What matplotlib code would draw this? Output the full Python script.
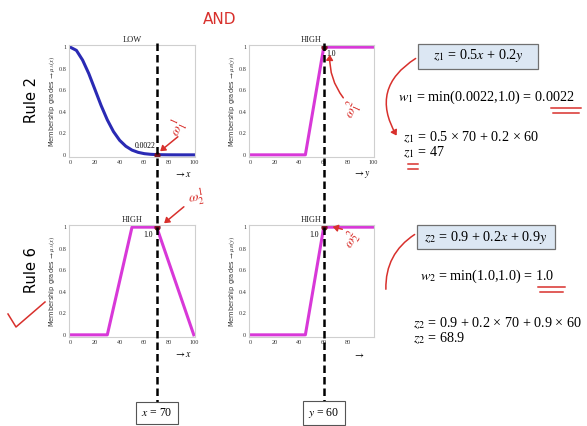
import numpy as np
import matplotlib
matplotlib.use("Agg")
import matplotlib.pyplot as plt
from matplotlib.lines import Line2D
from matplotlib.patches import FancyArrowPatch, Rectangle

plt.rcParams['mathtext.fontset'] = 'stix'
plt.rcParams['font.family'] = ['Liberation Serif', 'DejaVu Serif']

# membership functions
x_low = [0, 5, 10, 15, 20, 25, 30, 35, 40, 45, 50, 55, 60, 65, 70, 75, 80, 85, 90, 95, 100]
mu_low = [1.0, 0.97, 0.88, 0.755, 0.607, 0.458, 0.325, 0.216, 0.135, 0.08, 0.044,
          0.023, 0.011, 0.005, 0.0022, 0.001, 0.0003, 0.0001, 0.0, 0.0, 0.0]
x_high_a = [0, 30, 50, 70, 100]
mu_high_a = [0, 0, 1, 1, 0]
y_high_b = [0, 45, 60, 100]
mu_high_b = [0, 0, 1, 1]

x_in = 70
y_in = 60
w1_parts = (0.0022, 1.0)
w2_parts = (1.0, 1.0)

W, H = 587, 426
fig = plt.figure(figsize=(W / 100, H / 100), dpi=100)


def px(x, y):
    return x / W, 1 - y / H


def make_ax(left, top, right, bottom):
    return fig.add_axes([left / W, 1 - bottom / H, (right - left) / W, (bottom - top) / H])


BLUE = '#2a2ab4'
MAG = '#d838d8'
RED = '#d8302c'
DOT = '#7a1020'

ax1 = make_ax(69, 45, 195, 157)
ax2 = make_ax(249, 45, 374, 157)
ax3 = make_ax(69, 225, 195, 337)
ax4 = make_ax(249, 225, 374, 337)

ax1.plot(x_low, mu_low, color=BLUE, lw=2.2)
ax2.plot(y_high_b, mu_high_b, color=MAG, lw=2.2)
ax3.plot(x_high_a, mu_high_a, color=MAG, lw=2.2)
ax4.plot(y_high_b, mu_high_b, color=MAG, lw=2.2)

titles = ['LOW', 'HIGH', 'HIGH', 'HIGH']
ylabels = [r'Membership grades $\rightarrow\mu_A(x)$', r'Membership grades $\rightarrow\mu_B(y)$',
           r'Membership grades $\rightarrow\mu_A(x)$', r'Membership grades $\rightarrow\mu_B(y)$']
xlabels = [r'$\rightarrow x$', r'$\rightarrow y$', r'$\rightarrow x$', r'$\rightarrow$']
for ax, t, yl, xl in zip([ax1, ax2, ax3, ax4], titles, ylabels, xlabels):
    ax.set_xlim(-1, 101)
    ax.set_ylim(-0.02, 1.02)
    ax.set_yticks([0, 0.2, 0.4, 0.6, 0.8, 1])
    ax.set_yticklabels(['0', '0.2', '0.4', '0.6', '0.8', '1'])
    ax.set_xticks([0, 20, 40, 60, 80, 100])
    ax.tick_params(labelsize=4.5, length=0, pad=2, colors='#333333')
    for s in ax.spines.values():
        s.set_color('#cfcfcf')
        s.set_linewidth(0.8)
    ax.set_title(t, fontsize=6, pad=2, color='#222222')
    ax.set_ylabel(yl, fontsize=4.8, labelpad=1, color='#333333', family='DejaVu Sans')
    ax.text(0.83, -0.16, xl, transform=ax.transAxes, fontsize=7, ha='left', va='center')
ax4.set_xticks([0, 20, 40, 60, 80])

# firing points
ax1.plot([x_in], [w1_parts[0]], 'o', color=DOT, ms=3.5)
ax2.plot([y_in], [w1_parts[1]], 'o', color=DOT, ms=3.5)
ax3.plot([x_in], [w2_parts[0]], 'o', color=DOT, ms=3.5)
ax4.plot([y_in], [w2_parts[1]], 'o', color=DOT, ms=3.5)
ax1.text(x_in - 1, w1_parts[0] + 0.04, '0.0022', fontsize=5.5, ha='right', va='bottom')
ax2.text(y_in + 2, w1_parts[1] - 0.03, '1.0', fontsize=5.5, ha='left', va='top')
ax3.text(x_in - 3, w2_parts[0] - 0.04, '1.0', fontsize=5.5, ha='right', va='top')
ax4.text(y_in - 4, w2_parts[1] - 0.04, '1.0', fontsize=5.5, ha='right', va='top')

# dashed input lines
inv = fig.transFigure.inverted()
fx = inv.transform(ax1.transData.transform((x_in, 0)))[0]
fy = inv.transform(ax2.transData.transform((y_in, 0)))[0]
for xx in (fx, fy):
    fig.add_artist(Line2D([xx, xx], [1 - 43 / H, 1 - 402 / H], transform=fig.transFigure,
                          color='black', lw=1.8, ls=(0, (3, 1.6))))
fig.text(fx, 1 - 413 / H, r'$x$ = 70', fontsize=8.5, ha='center', va='center',
         bbox=dict(boxstyle='square,pad=0.45', fc='white', ec='#555555', lw=0.8))
fig.text(fy, 1 - 413 / H, r'$y$ = 60', fontsize=8.5, ha='center', va='center',
         bbox=dict(boxstyle='square,pad=0.45', fc='white', ec='#555555', lw=0.8))

# rule labels
fig.text(*px(32, 100), 'Rule 2', rotation=90, fontsize=10.5, ha='center', va='center', family='DejaVu Sans')
fig.text(*px(32, 270), 'Rule 6', rotation=90, fontsize=10.5, ha='center', va='center', family='DejaVu Sans')

# equations on the right
EQ = 10.2
for (l, t, r, b) in [(418, 44, 538, 69), (417, 225, 555, 249)]:
    fig.add_artist(Rectangle(px(l, b), (r - l) / W, (b - t) / H, transform=fig.transFigure,
                             fc='#dce7f3', ec='#707070', lw=0.9))
fig.text(*px(478, 56), r'$z_1$ = 0.5$x$ + 0.2$y$', fontsize=EQ, ha='center', va='center')
fig.text(*px(398, 97), r'$w_1$ = min(0.0022,1.0) = 0.0022', fontsize=EQ, ha='left', va='center')
fig.text(*px(403, 137), r'$z_1$ = 0.5 × 70 + 0.2 × 60', fontsize=EQ, ha='left', va='center')
fig.text(*px(403, 152), r'$z_1$ = 47', fontsize=EQ, ha='left', va='center')
fig.text(*px(486, 237), r'$z_2$ = 0.9 + 0.2$x$ + 0.9$y$', fontsize=EQ, ha='center', va='center')
fig.text(*px(420, 276), r'$w_2$ = min(1.0,1.0) = 1.0', fontsize=EQ, ha='left', va='center')
fig.text(*px(413, 323), r'$z_2$ = 0.9 + 0.2 × 70 + 0.9 × 60', fontsize=EQ, ha='left', va='center')
fig.text(*px(413, 338), r'$z_2$ = 68.9', fontsize=EQ, ha='left', va='center')

# handwritten red notes
fig.text(*px(220, 20), 'AND', fontsize=11, color=RED, ha='center', va='center', family='DejaVu Sans')
fig.text(*px(178, 128), r'$\omega_1^1$', fontsize=10, color=RED, ha='center', va='center', rotation=65)
fig.text(*px(352, 110), r'$\omega_1^2$', fontsize=10, color=RED, ha='center', va='center', rotation=65)
fig.text(*px(196, 198), r'$\omega_2^1$', fontsize=10, color=RED, ha='center', va='center', rotation=10)
fig.text(*px(352, 240), r'$\omega_2^2$', fontsize=10, color=RED, ha='center', va='center', rotation=60)


def red_arrow(p0, p1, rad=0.0, head=True):
    a = FancyArrowPatch(px(*p0), px(*p1), transform=fig.transFigure,
                        arrowstyle='-|>,head_length=3,head_width=2' if head else '-',
                        connectionstyle=f'arc3,rad={rad}', color=RED, lw=1.1)
    fig.add_artist(a)


red_arrow((180, 135), (158, 153))
red_arrow((345, 100), (330, 52), rad=-0.2)
red_arrow((186, 205), (162, 225))
red_arrow((345, 230), (330, 226))
red_arrow((418, 57), (398, 138), rad=0.5)
red_arrow((417, 233), (386, 292), rad=0.3, head=False)
fig.add_artist(Line2D([px(8, 0)[0], px(16, 0)[0], px(45, 0)[0]],
                      [px(0, 314)[1], px(0, 327)[1], px(0, 302)[1]],
                      transform=fig.transFigure, color=RED, lw=1.1))
for x0, x1, y0 in [(548, 584, 108), (550, 582, 113), (405, 421, 164), (405, 421, 169),
                   (535, 568, 287), (537, 566, 292)]:
    red_arrow((x0, y0), (x1, y0), head=False)

fig.savefig('out.png', dpi=100)
